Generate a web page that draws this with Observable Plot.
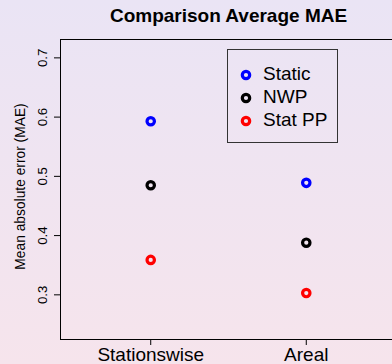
<!DOCTYPE html>
<html>
<head>
<meta charset="utf-8">
<script src="https://cdn.jsdelivr.net/npm/d3@7"></script>
<script src="https://cdn.jsdelivr.net/npm/@observablehq/plot@0.6"></script>
<style>
  html, body { margin: 0; padding: 0; width: 392px; height: 364px; overflow: hidden; }
  body {
    position: relative;
    background: linear-gradient(to bottom, #EAE4F5, #F6E4EC);
    font-family: "Liberation Sans", Arial, Helvetica, sans-serif;
  }
  #legend {
    position: absolute; left: 227px; top: 49px; width: 111px; height: 94px;
    box-sizing: border-box; border: 1px solid #333;
  }
  #legend .row {
    position: absolute; left: 0; height: 22px; line-height: 22px; font-size: 19px; color: #000;
    white-space: nowrap;
  }
  #legend svg { position: absolute; left: 11px; top: 5px; }
  #legend span { position: absolute; left: 35px; }
</style>
</head>
<body>
<div id="chart"></div>
<div id="legend"></div>
<script>
// Average MAE per verification method
const methods = ["Stationswise", "Areal"];
const series = ["Static", "NWP", "Stat PP"];
const seriesColors = ["blue", "black", "red"];
const staticMAE = [0.593, 0.489];
const nwpMAE = [0.485, 0.388];
const statPPMAE = [0.359, 0.303];
const yTicks = [0.3, 0.4, 0.5, 0.6, 0.7];

const values = [staticMAE, nwpMAE, statPPMAE];
const points = [];
series.forEach((s, k) => {
  methods.forEach((m, i) => points.push({series: s, pos: i + 1, mae: values[k][i]}));
});

const plot = Plot.plot({
  width: 392,
  height: 364,
  marginLeft: 60,
  marginRight: -4,
  marginTop: 39,
  marginBottom: 25,
  style: {background: "transparent", fontFamily: "'Liberation Sans', Arial, Helvetica, sans-serif", fontSize: "19px", color: "black"},
  x: {type: "linear", domain: [0.42, 2.58], axis: null},
  y: {domain: [0.2246, 0.731], axis: null},
  color: {domain: series, range: seriesColors},
  marks: [
    Plot.frame({stroke: "black", strokeWidth: 1}),
    Plot.axisX([1, 2], {tickSize: 6, tickPadding: 2, tickFormat: d => methods[d - 1], fontSize: 19, label: null}),
    Plot.axisY(yTicks, {tickSize: 6, tickFormat: () => "", label: null}),
    Plot.text(yTicks, {y: d => d, frameAnchor: "left", text: d => d.toFixed(1), rotate: -90, fontSize: 13.3, dx: -18, textAnchor: "middle", lineAnchor: "middle"}),
    Plot.text(["Mean absolute error (MAE)"], {frameAnchor: "left", rotate: -90, fontSize: 13.8, dx: -40, dy: -3, textAnchor: "middle", lineAnchor: "middle"}),
    Plot.text(["Comparison Average MAE"], {frameAnchor: "top", fontSize: 19, fontWeight: "bold", dy: -23.4, textAnchor: "middle", lineAnchor: "middle"}),
    Plot.dot(points, {x: "pos", y: "mae", stroke: "series", r: 3.7, strokeWidth: 3.2})
  ]
});
document.getElementById("chart").appendChild(plot);

// Legend box with one ring per series
const legend = document.getElementById("legend");
series.forEach((s, k) => {
  const row = document.createElement("div");
  row.className = "row";
  row.style.top = (13 + k * 23) + "px";
  row.innerHTML = `<svg width="14" height="14"><circle cx="7" cy="7" r="3.7" fill="none" stroke="${seriesColors[k]}" stroke-width="3.2"/></svg><span>${s}</span>`;
  legend.appendChild(row);
});
</script>
</body>
</html>
